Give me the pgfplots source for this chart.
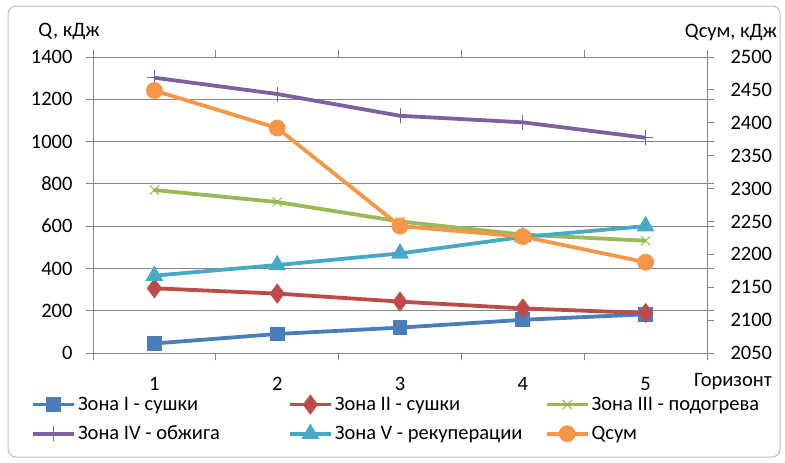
\documentclass[border=0pt]{standalone}
\usepackage{pgfplots}
\pgfplotsset{compat=1.18}
\usepackage{fontspec}
\setmainfont{Carlito}

\definecolor{axisgray}{RGB}{134,134,134}
\definecolor{frame}{RGB}{190,190,190}
\definecolor{zone1}{RGB}{74,126,187}
\definecolor{zone2}{RGB}{190,75,72}
\definecolor{zone3}{RGB}{152,185,84}
\definecolor{zone4}{RGB}{125,96,160}
\definecolor{zone5}{RGB}{70,170,197}
\definecolor{qsum}{RGB}{247,150,70}

\newcommand{\chartfont}{\fontsize{20.5}{24}\selectfont}

\pgfplotsset{
  common/.style={
    at={(93pt,-353pt)}, anchor=south west,
    scale only axis, width=614pt, height=296pt,
    xmin=0.5, xmax=5.5,
    tick align=outside, major tick length=7pt,
    tick style={axisgray, line width=0.8pt},
    axis line style={axisgray, line width=0.8pt},
    ticklabel style={font=\chartfont, /pgf/number format/assume math mode=true,
                     /pgf/number format/1000 sep={}},
  },
  series/.style={line width=3.8pt, mark options={solid}},
}

\begin{document}
\begin{tikzpicture}[x=1pt,y=1pt]
\useasboundingbox (0,0) rectangle (785,-463);
\draw[frame, line width=1pt, rounded corners=8pt] (8,-6) rectangle (780,-457);

% left axis: heat per zone
\begin{axis}[common,
  ymin=0, ymax=1400, ytick={0,200,...,1400},
  xtick={0.5,1.5,...,5.5}, xticklabels={1,2,3,4,5},
  x tick label as interval,
  xticklabel style={yshift=-14pt},
  yticklabel style={xshift=-10pt},
  ymajorgrids, grid style={axisgray, line width=0.8pt},
  legend columns=3,
  legend cell align=left,
  legend image code/.code={\draw[mark repeat=2,mark phase=2]
      plot coordinates {(0pt,0pt)(20.5pt,0pt)(41pt,0pt)};},
  legend style={at={(axis description cs:0,0)}, anchor=north west,
    xshift=-62pt, yshift=-42pt, draw=none, fill=none, inner sep=0pt,
    font=\chartfont, row sep=10pt},
]
\addplot[series, zone1, mark=square*, mark size=5.5pt]
  coordinates {(1,45) (2,90) (3,120) (4,157) (5,183)};
\addlegendentry{\makebox[208pt][l]{Зона I - сушки}}
\addplot[series, zone2, mark=diamond*, mark size=7pt]
  coordinates {(1,306) (2,281) (3,243) (4,211) (5,189)};
\addlegendentry{\makebox[208pt][l]{Зона II - сушки}}
\addplot[series, zone3, mark=x, mark size=6.5pt, mark options={line width=1pt}]
  coordinates {(1,771) (2,714) (3,622) (4,560) (5,531)};
\addlegendentry{Зона III - подогрева}
\addplot[series, zone4, mark=+, mark size=7.5pt, mark options={line width=1pt}]
  coordinates {(1,1302) (2,1225) (3,1122) (4,1091) (5,1018)};
\addlegendentry{\makebox[208pt][l]{Зона IV - обжига}}
\addplot[series, zone5, mark=triangle*, mark size=6.5pt]
  coordinates {(1,366) (2,416) (3,471) (4,549) (5,600)};
\addlegendentry{\makebox[208pt][l]{Зона V - рекуперации}}
\addlegendimage{series, qsum, mark=*, mark size=6.5pt}
\addlegendentry{Qсум}
\end{axis}

% right axis: total heat
\begin{axis}[common,
  ymin=2050, ymax=2500, ytick={2050,2100,...,2500},
  yticklabel style={xshift=13pt},
  axis y line*=right, hide x axis,
]
\addplot[series, qsum, mark=*, mark size=6.5pt]
  coordinates {(1,2449) (2,2392) (3,2243) (4,2227) (5,2188)};
\end{axis}

\node[font=\chartfont] at (69,-31) {Q, кДж};
\node[font=\chartfont] at (731,-32) {Qсум, кДж};
\node[font=\chartfont] at (733,-382) {Горизонт};
\end{tikzpicture}
\end{document}
